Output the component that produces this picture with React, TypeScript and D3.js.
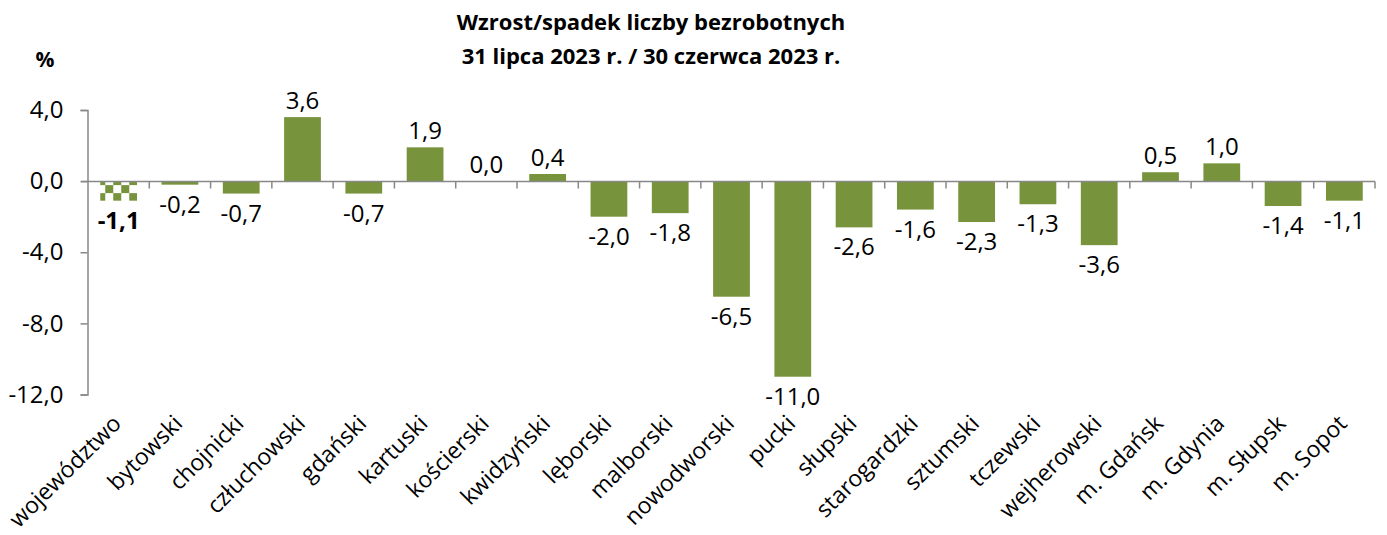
import React, { useEffect, useRef } from 'react';
import * as d3 from 'd3';

const categories = [
  'województwo', 'bytowski', 'chojnicki', 'człuchowski', 'gdański', 'kartuski',
  'kościerski', 'kwidzyński', 'lęborski', 'malborski', 'nowodworski', 'pucki',
  'słupski', 'starogardzki', 'sztumski', 'tczewski', 'wejherowski', 'm. Gdańsk',
  'm. Gdynia', 'm. Słupsk', 'm. Sopot',
];
const values = [-1.1, -0.2, -0.7, 3.6, -0.7, 1.9, 0.0, 0.4, -2.0, -1.8, -6.5, -11.0, -2.6, -1.6, -2.3, -1.3, -3.6, 0.5, 1.0, -1.4, -1.1];
const yTicks = [4, 0, -4, -8, -12];
const titleLines = ['Wzrost/spadek liczby bezrobotnych', '31 lipca 2023 r. / 30 czerwca 2023 r.'];

const W = 1387;
const H = 535;
const FONT = '"Open Sans", sans-serif';
const GREEN = '#77933C';
const AXIS = '#888888';

const fmt = (v: number) => v.toFixed(1).replace('.', ',');

const App: React.FC = () => {
  const svgRef = useRef<SVGSVGElement>(null);

  useEffect(() => {
    if (!svgRef.current) return;
    const svg = d3.select(svgRef.current);
    svg.selectAll('*').remove();

    const margin = { left: 88, right: 12 };

    const x = d3.scaleBand<string>()
      .domain(categories)
      .range([margin.left, W - margin.right])
      .paddingInner(0.4)
      .paddingOuter(0.2);

    const y = d3.scaleLinear().domain([-12, 4]).range([394.5, 110]);

    // checker pattern for the first bar (województwo)
    const defs = svg.append('defs');
    const pat = defs.append('pattern')
      .attr('id', 'checker')
      .attr('patternUnits', 'userSpaceOnUse')
      .attr('width', 16)
      .attr('height', 16)
      .attr('x', (x(categories[0]) || 0) - 3)
      .attr('y', y(0) - 4);
    pat.append('rect').attr('width', 16).attr('height', 16).attr('fill', '#fff');
    pat.append('rect').attr('width', 8).attr('height', 8).attr('fill', GREEN);
    pat.append('rect').attr('x', 8).attr('y', 8).attr('width', 8).attr('height', 8).attr('fill', GREEN);

    // title
    svg.append('g').selectAll('text')
      .data(titleLines)
      .enter()
      .append('text')
      .attr('x', 651)
      .attr('y', (_d, i) => 30 + i * 34)
      .attr('text-anchor', 'middle')
      .style('font-family', FONT)
      .style('font-size', '22px')
      .style('font-weight', 'bold')
      .attr('fill', '#000')
      .text(d => d);

    svg.append('text')
      .attr('x', 45)
      .attr('y', 67)
      .attr('text-anchor', 'middle')
      .style('font-family', FONT)
      .style('font-size', '21px')
      .style('font-weight', 'bold')
      .text('%');

    // bars
    svg.append('g').selectAll('rect')
      .data(values)
      .enter()
      .append('rect')
      .attr('x', (_d, i) => x(categories[i]) || 0)
      .attr('y', d => y(Math.max(0, d)))
      .attr('width', x.bandwidth())
      .attr('height', d => Math.abs(y(d) - y(0)))
      .attr('fill', (_d, i) => (i === 0 ? 'url(#checker)' : GREEN));

    // y axis
    const yAxis = d3.axisLeft(y)
      .tickValues(yTicks)
      .tickSize(7)
      .tickPadding(17)
      .tickFormat(d => fmt(d as number));
    const yg = svg.append('g')
      .attr('transform', `translate(${margin.left - 0.5},0)`)
      .call(yAxis);
    yg.select('.domain').attr('stroke', AXIS).attr('stroke-width', 1.5);
    yg.selectAll('.tick line').attr('stroke', AXIS).attr('stroke-width', 1.5);
    yg.selectAll('.tick text')
      .style('font-family', FONT)
      .style('font-size', '24px')
      .attr('fill', '#000');

    // x axis line at zero with boundary ticks
    const x0 = margin.left;
    const x1 = W - margin.right;
    const step = x.step();
    const start = x.range()[0];
    const zeroY = Math.round(y(0)) + 0.5;
    const xg = svg.append('g');
    xg.append('line')
      .attr('x1', x0 - 7).attr('x2', x1)
      .attr('y1', zeroY).attr('y2', zeroY)
      .attr('stroke', AXIS).attr('stroke-width', 1.5);
    const bounds = d3.range(categories.length + 1).map(i => start + i * step);
    xg.selectAll('line.tk')
      .data(bounds.slice(1))
      .enter()
      .append('line')
      .attr('class', 'tk')
      .attr('x1', d => d).attr('x2', d => d)
      .attr('y1', zeroY).attr('y2', zeroY + 7)
      .attr('stroke', AXIS).attr('stroke-width', 1.5);

    // category labels
    svg.append('g').selectAll('text')
      .data(categories)
      .enter()
      .append('text')
      .attr('transform', d => `translate(${(x(d) || 0) + x.bandwidth() / 2 + 4},${425}) rotate(-45)`)
      .attr('text-anchor', 'end')
      .style('font-family', FONT)
      .style('font-size', '23px')
      .attr('fill', '#000')
      .text(d => d);

    // value labels
    svg.append('g').selectAll('text')
      .data(values)
      .enter()
      .append('text')
      .attr('x', (_d, i) => (x(categories[i]) || 0) + x.bandwidth() / 2)
      .attr('y', d => (d >= 0 ? y(d) - 8 : y(d) + 28))
      .attr('text-anchor', 'middle')
      .style('font-family', FONT)
      .style('font-size', '24px')
      .style('font-weight', (_d, i) => (i === 0 ? 'bold' : 'normal'))
      .attr('fill', '#000')
      .text(d => fmt(d));
  }, []);

  return (
    <div style={{ position: 'fixed', left: 0, top: 0, width: W, height: H, background: '#fff' }}>
      <svg ref={svgRef} width={W} height={H} />
    </div>
  );
};

export default App;
